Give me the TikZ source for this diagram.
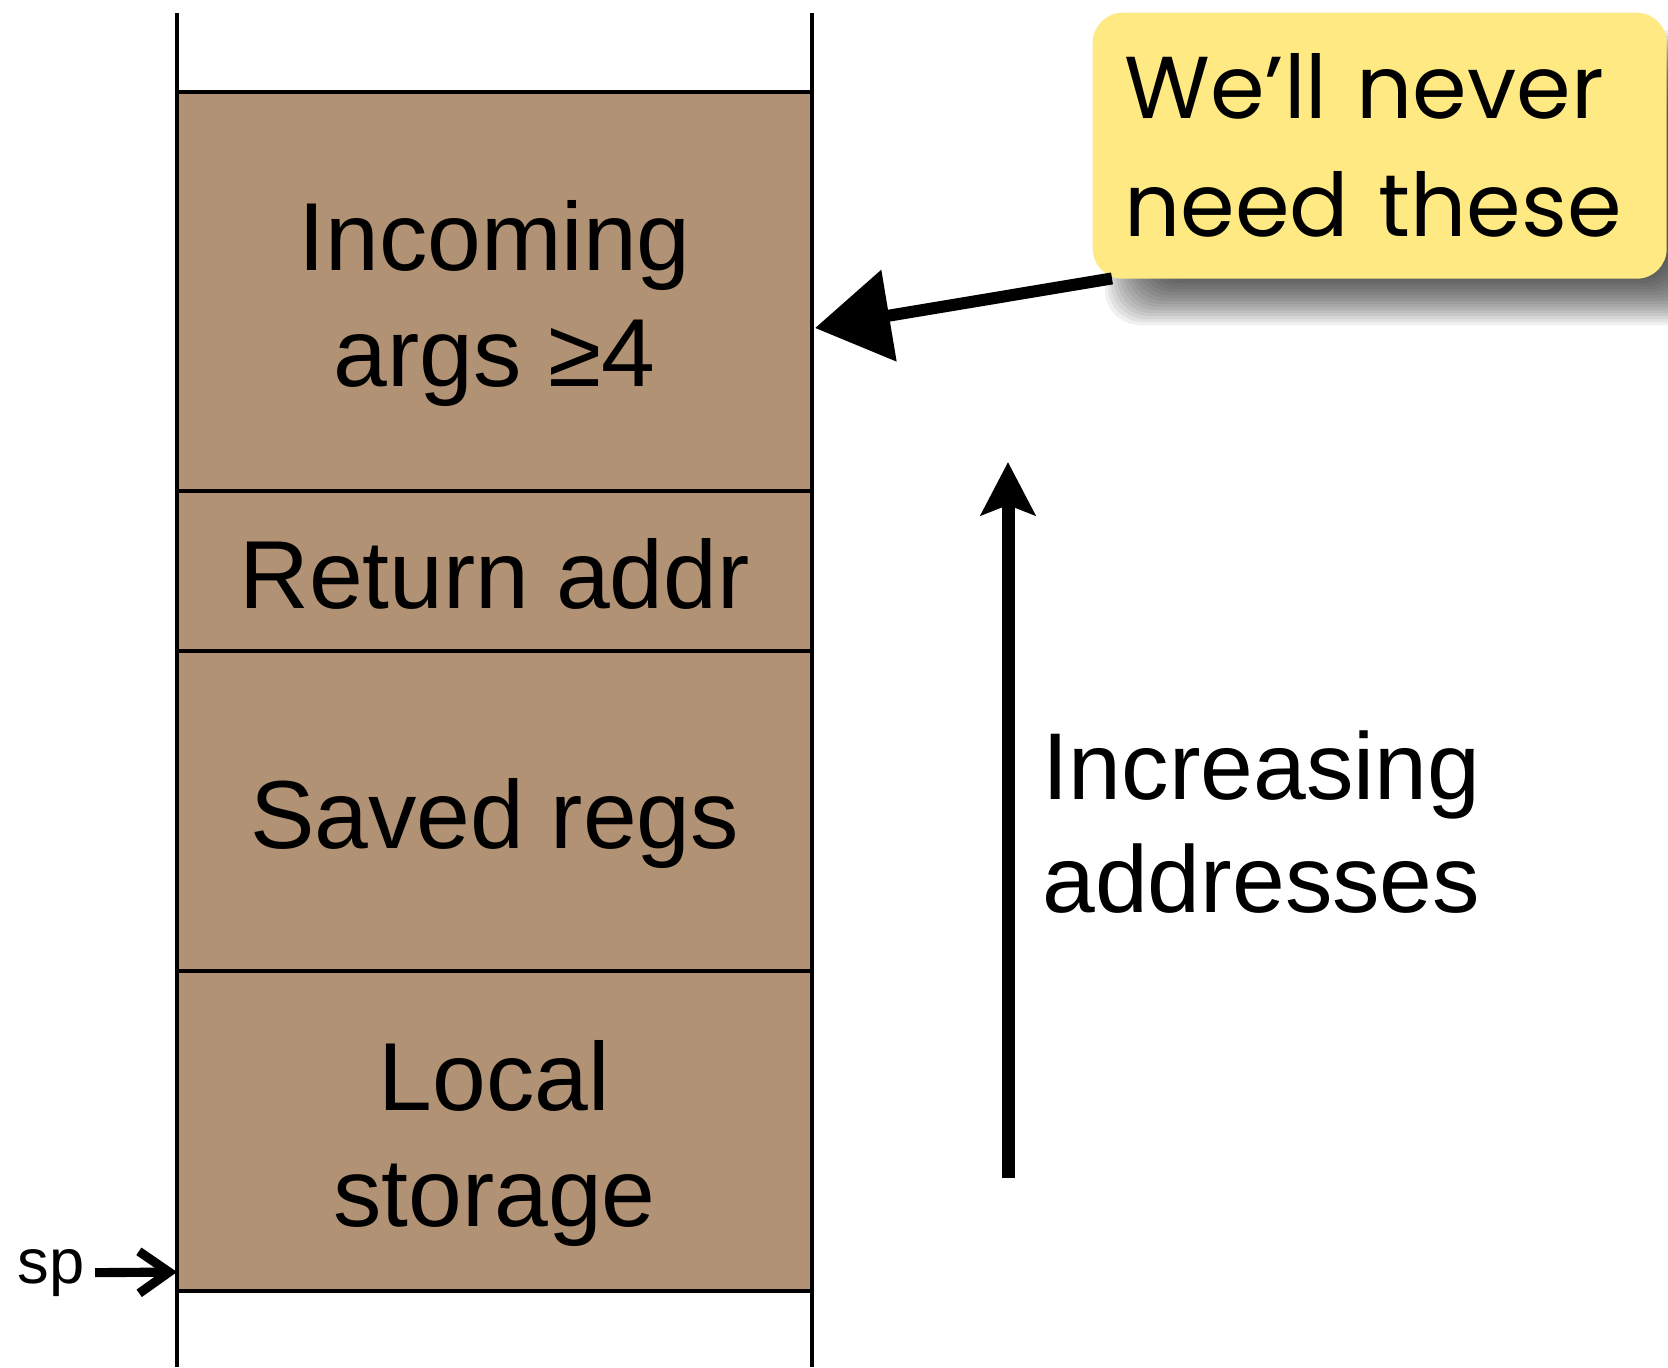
\documentclass[tikz,border=0pt]{standalone}
\usepackage{fontspec}
\setmainfont{Liberation Sans}
\newfontfamily\notefont{Poppins}
\usetikzlibrary{positioning,arrows.meta}

\definecolor{stackbrown}{RGB}{177,146,116}
\definecolor{noteyellow}{RGB}{254,233,131}

\tikzset{
  cell/.style={draw, line width=1.1pt, fill=stackbrown, minimum width=6.35cm,
    outer sep=0pt, align=center, font=\fontsize{27.5}{33}\selectfont},
  rail/.style={line width=1pt},
  note/.style={fill=noteyellow, rounded corners=0.3cm, align=left,
    anchor=north west, inner xsep=0.28cm, text width=5.1cm,
    minimum width=5.74cm, minimum height=2.66cm,
    font=\notefont\fontsize{25}{33.5}\selectfont},
}
\newcommand{\lift}[1]{\rule{0pt}{#1}}

\begin{document}
\begin{tikzpicture}
  \useasboundingbox (0,0) rectangle (16.68,-13.67);

  % the stack
  \foreach \x in {1.77,8.12}
    \draw[rail] (\x,-0.13) -- (\x,-13.67);

  \node[cell, anchor=north, minimum height=3.99cm] (args) at (4.945,-0.92) {\lift{0.95cm}Incoming\\args ≥4};
  \node[cell, below=0pt of args, minimum height=1.60cm] (ret) {\lift{0.75cm}Return addr};
  \node[cell, below=0pt of ret, minimum height=3.20cm] (saved) {\lift{0.95cm}Saved regs};
  \node[cell, below=0pt of saved, minimum height=3.20cm] (local) {\lift{0.95cm}Local\\storage};

  % stack pointer
  \node[font=\fontsize{18}{20}\selectfont, inner sep=0.1cm] (sp) at (0.51,-12.73) {sp};
  \coordinate (spmark) at (1.77,-12.72);
  \draw[line width=2.6pt, -{Straight Barb[length=0.3cm, width=0.42cm]}] (sp) -- (spmark);

  % direction of growth
  \coordinate (growlow) at (10.08,-11.78);
  \coordinate (growhigh) at (10.08,-4.62);
  \draw[line width=0.13cm, -{Stealth[length=0.53cm, width=0.54cm, inset=0.1cm]}] (growlow) -- (growhigh);
  \node[anchor=west, align=left, font=\fontsize{27}{32}\selectfont] (incr) at (10.30,-8.22) {Increasing\\addresses};

  % soft shadow under the remark
  \foreach \i in {0,...,19}
    \fill[black, opacity=0.06, rounded corners=0.35cm]
      (11.35-0.3+\i*0.03, -0.6+0.3-\i*0.03) rectangle (16.9+0.3-\i*0.03, -2.95-0.3+\i*0.03);

  % the remark
  \node[note] (callout) at (10.92,-0.12) {We’ll never\\need these};
  \coordinate (argtip) at (8.15,-3.28);
  \draw[line width=0.12cm, -{Triangle[length=0.75cm, width=0.9cm]}]
    ([xshift=0.2cm, yshift=0.01cm]callout.south west) -- (argtip);
\end{tikzpicture}
\end{document}
